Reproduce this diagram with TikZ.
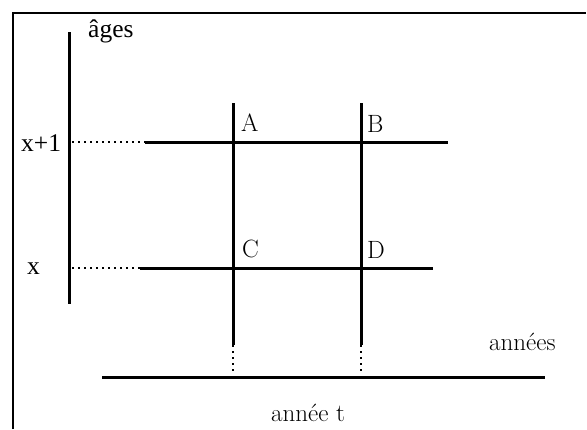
\documentclass[tikz,border=0pt]{standalone}
\usepackage{fontspec}
\newfontfamily\timesf{Liberation Serif}
\begin{document}
\begin{tikzpicture}[x=1pt,y=-1pt,
  axis/.style={line width=3pt},
  frameline/.style={line width=2.4pt},
  dots/.style={line width=2pt, dash pattern=on 2pt off 4pt},
  lbl/.style={inner sep=0pt, anchor=base west, font=\fontsize{25}{29}\selectfont},
  tlbl/.style={inner sep=0pt, anchor=base west, font=\timesf\fontsize{25.5}{30}\selectfont}]
\useasboundingbox (0,0) rectangle (587,429);
% frame
\draw[frameline] (13,429) -- (13,13) -- (586,13);
% age axis
\coordinate (ytop) at (69,32);
\coordinate (ybot) at (69,304);
\draw[axis] (ytop) -- (ybot);
\node[tlbl] (ages) at (88,37) {âges};
\node[tlbl] (x1) at (21,151) {x+1};
\node[tlbl] (x0) at (27,274) {x};
% horizontal lines
\coordinate (h1d) at (72,142);
\coordinate (h1s) at (145,142);
\coordinate (h1e) at (448,142);
\coordinate (h0d) at (72,268);
\coordinate (h0s) at (140,268);
\coordinate (h0e) at (433,268);
\draw[dots] (h1d) -- (h1s);
\draw[axis] (h1s) -- (h1e);
\draw[dots] (h0d) -- (h0s);
\draw[axis] (h0s) -- (h0e);
% vertical lines
\coordinate (v1t) at (233,103);
\coordinate (v1b) at (233,345);
\coordinate (v1d) at (233,374);
\coordinate (v2t) at (361,103);
\coordinate (v2b) at (361,345);
\coordinate (v2d) at (361,374);
\draw[axis] (v1t) -- (v1b);
\draw[dots] (v1b) -- (v1d);
\draw[axis] (v2t) -- (v2b);
\draw[dots] (v2b) -- (v2d);
% labels
\node[lbl] (A) at (241,131) {A};
\node[lbl] (B) at (367,132) {B};
\node[lbl] (C) at (242,257) {C};
\node[lbl] (D) at (367,258) {D};
% time axis
\coordinate (tl) at (102,377);
\coordinate (tr) at (545,377);
\draw[axis] (tl) -- (tr);
\node[lbl] (annees) at (489,350) {années};
\node[lbl] (anneet) at (271,421) {année t};
\end{tikzpicture}
\end{document}
